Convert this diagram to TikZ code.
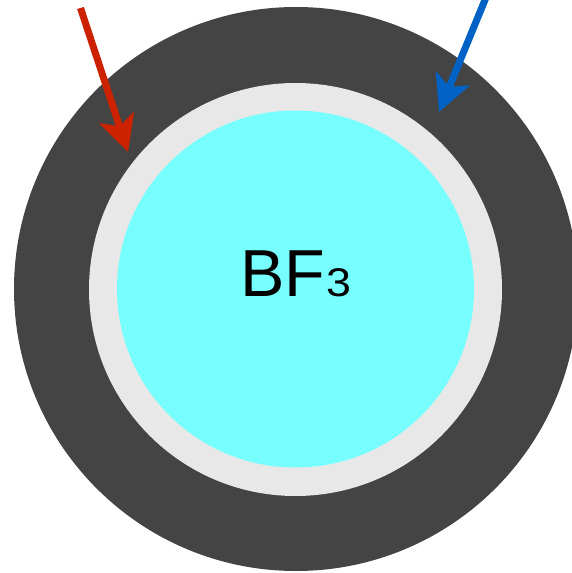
\documentclass[tikz,border=0pt]{standalone}
\usepackage{fontspec}
\setmainfont{Liberation Sans}
\usetikzlibrary{arrows.meta}
\definecolor{darkring}{HTML}{444444}
\definecolor{lightring}{HTML}{E8E8E8}
\definecolor{core}{HTML}{77FFFF}
\definecolor{redarrow}{HTML}{CC2200}
\definecolor{bluearrow}{HTML}{0062C4}
\tikzset{
  disc/.style={circle, inner sep=0pt, draw=none, minimum size=#1},
  fluxarrow/.style={line width=7pt, -{Stealth[length=36pt, width=36pt, inset=9pt]}},
}
\begin{document}
\begin{tikzpicture}[x=1pt, y=-1pt]
\useasboundingbox (0,0) rectangle (572,573);
\clip (0,0) rectangle (572,573);
\node[disc=564pt, fill=darkring] (outer) at (296,289) {};
\node[disc=413pt, fill=lightring] (middle) at (295.5,289.5) {};
\node[disc=357pt, fill=core] (inner) at (295.5,289) {};
\node[anchor=base west, inner sep=0pt, font=\fontsize{66.5}{70}\selectfont] (label) at (240,296) {BF\kern1.5pt{\fontsize{40}{42}\selectfont\addfontfeature{FakeStretch=1.12}3}};
\coordinate (rs) at (80.5,8);
\coordinate (rt) at (128,152);
\coordinate (bs) at (487,-5);
\coordinate (bt) at (439,112);
\draw[fluxarrow, draw=redarrow, fill=redarrow] (rs) -- (rt);
\draw[fluxarrow, draw=bluearrow, fill=bluearrow] (bs) -- (bt);
\end{tikzpicture}
\end{document}
